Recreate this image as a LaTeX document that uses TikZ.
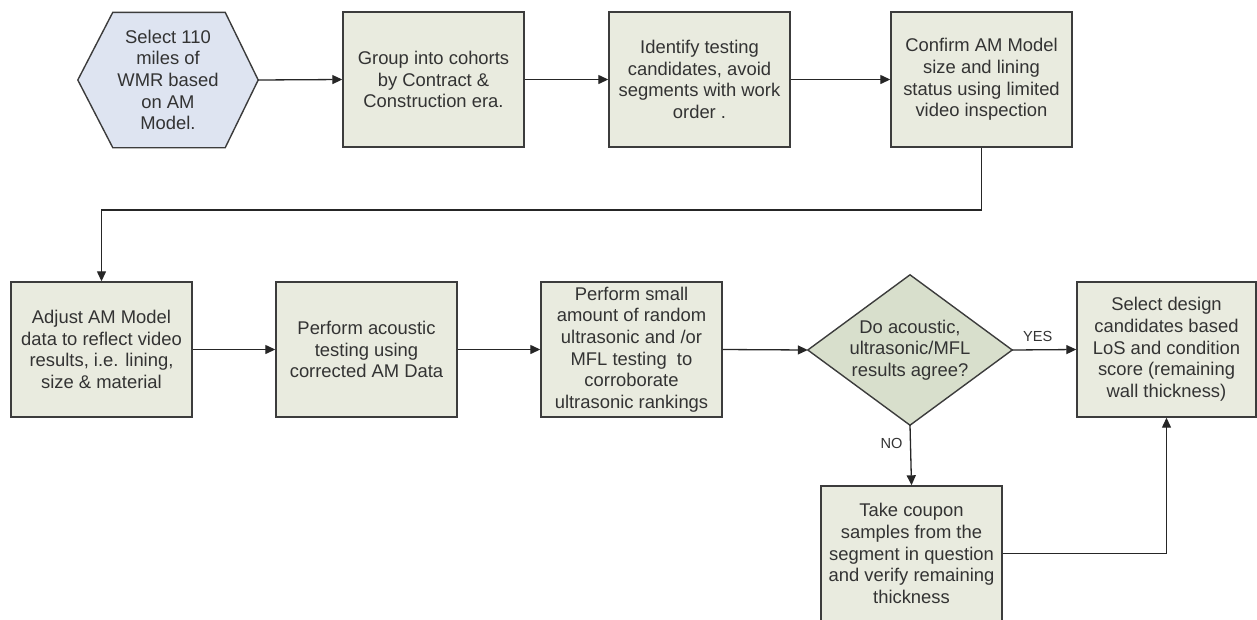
\documentclass[tikz,border=0pt]{standalone}
\usepackage{fontspec}
\setmainfont{Liberation Sans}
\usetikzlibrary{arrows.meta,calc}

\definecolor{boxfill}{HTML}{E9EBDF}
\definecolor{hexfill}{HTML}{DEE4F1}
\definecolor{decfill}{HTML}{D8DFCC}
\definecolor{edgecol}{HTML}{3C3C3C}
\definecolor{textcol}{HTML}{333333}

\tikzset{
  stepbox/.style={draw=edgecol, line width=1.4pt, fill=boxfill, rectangle,
    minimum width=181pt, minimum height=135pt, inner sep=0pt,
    align=center, text=textcol, font=\fontsize{18.4}{21.7}\selectfont},
  textonly/.style={rectangle, inner sep=0pt, align=center, text=textcol,
    font=\fontsize{18.4}{21.7}\selectfont},
  outline/.style={draw=edgecol, line width=1.4pt},
  flow/.style={draw=black!85, line width=1.3pt,
    -{Triangle[length=10pt,width=9pt]}},
  branch/.style={text=textcol, font=\fontsize{14.6}{16}\selectfont}
}

\begin{document}
\begin{tikzpicture}[x=1pt,y=-1pt]
\useasboundingbox (0,0) rectangle (1257,619);

% start: hexagon drawn around an invisible frame node
\node[textonly, minimum width=180pt, minimum height=135pt] (hex) at (168,80) {};
\path[outline, fill=hexfill]
  (hex.west) -- ($(hex.north west)+(35,0)$) -- ($(hex.north east)+(-33,0)$)
  -- (hex.east) -- ($(hex.south east)+(-33,0)$) -- ($(hex.south west)+(35,0)$)
  -- cycle;
\node[textonly] (hextext) at (hex.center) {Select 110\\miles of\\WMR based\\on AM\\Model.};

% first row
\node[stepbox] (grp) at (433.5,79.5) {Group into cohorts\\by Contract \&\\Construction era.};
\node[stepbox] (idf) at (699.5,79.5) {Identify testing\\candidates, avoid\\segments with work\\order .};
\node[stepbox] (cnf) at (981.5,79.5) {Confirm AM Model\\size and lining\\status using limited\\video inspection};

% second row
\node[stepbox] (adj) at (101.5,349.5) {Adjust AM Model\\data to reflect video\\results, i.e. lining,\\size \& material};
\node[stepbox] (acu) at (366.5,349.5) {Perform acoustic\\testing using\\corrected AM Data};
\node[stepbox] (ult) at (631.5,349.5) {Perform small\\amount of random\\ultrasonic and /or\\MFL testing\ \ to\\corroborate\\ultrasonic rankings};

% decision diamond drawn around an invisible frame node
\node[textonly, minimum width=204pt, minimum height=150pt] (dec) at (910,350) {};
\path[outline, fill=decfill] (dec.west) -- (dec.north) -- (dec.east) -- (dec.south) -- cycle;
\node[textonly] (dectext) at (dec.center) {Do acoustic,\\ultrasonic/MFL\\results agree?};

\node[stepbox, minimum width=179pt] (sel) at (1166.5,349.5) {Select design\\candidates based\\LoS and condition\\score (remaining\\wall thickness)};
\node[stepbox] (cpn) at (911.5,553.5) {Take coupon\\samples from the\\segment in question\\and verify remaining\\thickness};

% connectors
\draw[flow] (hex.east) -- (grp.west);
\draw[flow] (grp.east) -- (idf.west);
\draw[flow] (idf.east) -- (cnf.west);
\coordinate (wrap) at (0,210);
\draw[flow] (cnf.south) -- (cnf.south |- wrap) -- (adj.north |- wrap) -- (adj.north);
\draw[flow] (adj.east) -- (acu.west);
\draw[flow] (acu.east) -- (ult.west);
\draw[flow] (ult.east) -- (dec.west);
\draw[flow] (dec.east) -- node[branch, above=4pt, pos=0.4] {YES} (sel.west);
\draw[flow] (dec.south) -- node[branch, left=4pt, pos=0.3] {NO} (cpn.north);
\draw[flow] (cpn.east) -| (sel.south);

\end{tikzpicture}
\end{document}
